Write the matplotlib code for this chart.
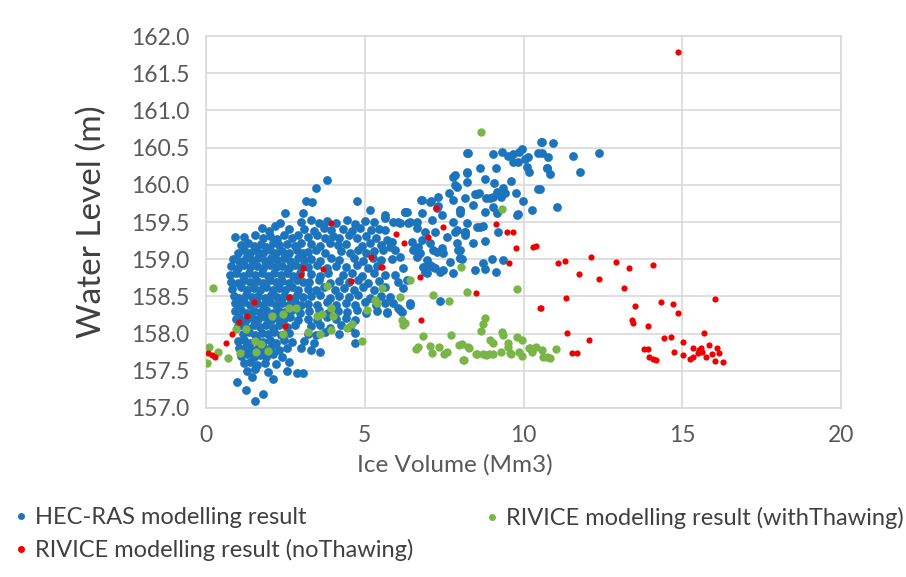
import matplotlib
matplotlib.use("Agg")
import matplotlib.pyplot as plt
from matplotlib.lines import Line2D

# Ice volume (Mm3), water level (m) pairs
hec_ras = [
    # top of main cluster
    (1.75, 159.42), (1.97, 159.38), (2.16, 159.44), (2.33, 159.49), (2.49, 159.62), (2.62, 159.41),
    (0.91, 159.30), (1.20, 159.30), (1.54, 159.33), (1.80, 159.29), (2.02, 159.31), (2.22, 159.27),
    (2.45, 159.32), (2.70, 159.28), (2.90, 159.33),
    (1.10, 159.19), (1.31, 159.22), (1.50, 159.18), (1.72, 159.21), (1.90, 159.17), (2.10, 159.22),
    (2.30, 159.19), (2.55, 159.21), (2.80, 159.18), (3.00, 159.22),
    (1.00, 159.09), (1.20, 159.12), (1.40, 159.08), (1.60, 159.11), (1.80, 159.09), (2.00, 159.12),
    (2.20, 159.08), (2.40, 159.11), (2.60, 159.09), (2.85, 159.12), (3.05, 159.08),
    (0.85, 159.00), (1.05, 158.98), (1.25, 159.02), (1.45, 158.99), (1.65, 159.01), (1.85, 158.98),
    (2.05, 159.02), (2.25, 158.99), (2.45, 159.01), (2.65, 158.98), (2.90, 159.02), (3.10, 158.99),
    (0.80, 158.91), (1.00, 158.88), (1.20, 158.92), (1.40, 158.89), (1.60, 158.91), (1.80, 158.88),
    (2.00, 158.92), (2.20, 158.89), (2.40, 158.91), (2.60, 158.88), (2.80, 158.92), (3.00, 158.89),
    (0.74, 158.79), (0.95, 158.82), (1.15, 158.78), (1.35, 158.81), (1.55, 158.79), (1.75, 158.82),
    (1.95, 158.78), (2.15, 158.81), (2.35, 158.79), (2.55, 158.82), (2.75, 158.78), (2.95, 158.81),
    (0.80, 158.70), (1.00, 158.68), (1.20, 158.72), (1.40, 158.69), (1.60, 158.71), (1.80, 158.68),
    (2.00, 158.72), (2.20, 158.69), (2.40, 158.71), (2.60, 158.68), (2.85, 158.72), (3.05, 158.69),
    (0.82, 158.60), (1.10, 158.62), (1.30, 158.58), (1.50, 158.61), (1.70, 158.59), (1.90, 158.62),
    (2.10, 158.58), (2.30, 158.61), (2.50, 158.59), (2.70, 158.62), (2.90, 158.58),
    (0.88, 158.50), (1.05, 158.48), (1.25, 158.52), (1.45, 158.49), (1.65, 158.51), (1.85, 158.48),
    (2.05, 158.52), (2.25, 158.49), (2.45, 158.51), (2.65, 158.48), (2.85, 158.52), (3.05, 158.49),
    (0.91, 158.41), (1.00, 158.38), (1.20, 158.42), (1.40, 158.39), (1.60, 158.41), (1.80, 158.38),
    (2.00, 158.42), (2.20, 158.39), (2.40, 158.41), (2.60, 158.38), (2.80, 158.42), (3.00, 158.39),
    (0.90, 158.30), (1.10, 158.32), (1.30, 158.28), (1.50, 158.31), (1.70, 158.29), (1.90, 158.32),
    (2.10, 158.28), (2.30, 158.31), (2.50, 158.29), (2.70, 158.32), (2.95, 158.28),
    (0.95, 158.20), (1.05, 158.22), (1.25, 158.18), (1.45, 158.21), (1.65, 158.19), (1.85, 158.22),
    (2.05, 158.18), (2.25, 158.21), (2.45, 158.19), (2.65, 158.22), (2.90, 158.18),
    (1.00, 158.10), (1.10, 158.12), (1.30, 158.08), (1.50, 158.11), (1.70, 158.09), (1.90, 158.12),
    (2.10, 158.08), (2.30, 158.11), (2.55, 158.09), (2.80, 158.12),
    (1.15, 158.00), (1.35, 158.02), (1.55, 157.98), (1.75, 158.01), (1.95, 157.99), (2.15, 158.02),
    (2.35, 157.98), (2.60, 158.01),
    (1.02, 157.90), (1.20, 157.92), (1.40, 157.88), (1.60, 157.91), (1.80, 157.89), (2.00, 157.92),
    (2.20, 157.88), (2.45, 157.91), (2.70, 157.89),
    (1.05, 157.80), (1.25, 157.82), (1.45, 157.78), (1.65, 157.81), (1.85, 157.79), (2.05, 157.82),
    (2.30, 157.78), (2.55, 157.81),
    (1.10, 157.70), (1.30, 157.72), (1.50, 157.68), (1.70, 157.71), (1.90, 157.69), (2.10, 157.72),
    (2.40, 157.68),
    (1.20, 157.60), (1.40, 157.62), (1.60, 157.58), (1.85, 157.61), (2.20, 157.59), (2.62, 157.62),
    (1.30, 157.50), (1.55, 157.52), (1.95, 157.48), (2.55, 157.50), (2.87, 157.47), (3.06, 157.47),
    (0.97, 157.35), (1.45, 157.41), (2.11, 157.39), (1.26, 157.24), (1.80, 157.19), (1.54, 157.09),
    # 3 to 5.6 Mm3
    (3.81, 160.06), (3.46, 159.96), (3.15, 159.78), (3.34, 159.77), (4.76, 159.78), (5.17, 159.66),
    (3.06, 159.62),
    (3.00, 159.50), (3.30, 159.53), (3.55, 159.48), (3.80, 159.52), (4.10, 159.49), (4.45, 159.53),
    (4.70, 159.47), (5.00, 159.52), (5.30, 159.50),
    (3.10, 159.40), (3.40, 159.38), (3.70, 159.42), (3.95, 159.39), (4.30, 159.41), (4.60, 159.38),
    (4.85, 159.42), (5.20, 159.39), (5.45, 159.41),
    (3.20, 159.30), (3.50, 159.32), (3.75, 159.28), (4.00, 159.31), (4.20, 159.29), (4.50, 159.32),
    (4.75, 159.28), (5.05, 159.31), (5.35, 159.29),
    (3.30, 159.20), (3.60, 159.18), (3.90, 159.22), (4.15, 159.19), (4.40, 159.21), (4.90, 159.18),
    (5.15, 159.22), (5.50, 159.19),
    (3.20, 159.10), (3.45, 159.12), (3.75, 159.08), (4.25, 159.11), (4.55, 159.09), (4.80, 159.12),
    (5.05, 159.08), (5.30, 159.11),
    (3.30, 159.00), (3.60, 158.98), (3.95, 159.02), (4.20, 158.99), (4.65, 159.01), (4.95, 158.98),
    (5.25, 159.02), (5.50, 158.99),
    (3.20, 158.90), (3.50, 158.92), (3.80, 158.88), (4.10, 158.91), (4.40, 158.89), (4.75, 158.92),
    (5.10, 158.88), (5.40, 158.91),
    (3.30, 158.80), (3.60, 158.78), (3.85, 158.82), (4.30, 158.79), (4.60, 158.81), (4.90, 158.78),
    (5.30, 158.82),
    (3.25, 158.70), (3.55, 158.72), (3.90, 158.68), (4.20, 158.71), (4.50, 158.69), (4.80, 158.72),
    (5.10, 158.68), (5.45, 158.71),
    (3.20, 158.60), (3.45, 158.58), (3.70, 158.62), (4.05, 158.59), (4.35, 158.61), (4.65, 158.58),
    (4.95, 158.62), (5.30, 158.59),
    (3.30, 158.50), (3.60, 158.52), (3.90, 158.48), (4.20, 158.51), (4.50, 158.49), (4.80, 158.52),
    (5.15, 158.48), (5.50, 158.51),
    (3.20, 158.40), (3.50, 158.38), (3.80, 158.42), (4.10, 158.39), (4.40, 158.41), (4.70, 158.38),
    (5.00, 158.42), (5.35, 158.39), (5.65, 158.41),
    (3.25, 158.30), (3.55, 158.32), (3.85, 158.28), (4.15, 158.31), (4.45, 158.29), (4.75, 158.32),
    (5.05, 158.28), (5.40, 158.31), (5.70, 158.28),
    (3.20, 158.20), (3.50, 158.18), (3.80, 158.22), (4.10, 158.19), (4.40, 158.21), (4.70, 158.18),
    (3.30, 158.10), (3.60, 158.12), (3.90, 158.08), (4.25, 158.11), (4.55, 158.09),
    (3.20, 158.00), (3.45, 157.98), (3.75, 158.02), (4.20, 157.99), (4.70, 158.01),
    (3.10, 157.90), (3.40, 157.88), (4.69, 157.87), (3.00, 157.80), (3.30, 157.78), (3.59, 157.75),
    # 5.5 to 8.2 Mm3
    (5.64, 159.59), (6.33, 159.64), (6.80, 159.62), (7.28, 159.69),
    (5.64, 159.55), (5.89, 159.50), (6.05, 159.50), (6.27, 159.64), (6.36, 159.49), (6.65, 159.50),
    (5.64, 159.39), (5.70, 159.26), (5.86, 159.23), (5.80, 159.16), (5.57, 159.12), (5.95, 159.12),
    (6.11, 159.03), (5.86, 159.00), (5.64, 158.79), (5.95, 158.79), (6.20, 158.88), (6.05, 158.69),
    (6.33, 158.72), (5.64, 158.63), (6.20, 158.61), (5.80, 158.49), (5.89, 158.41), (6.43, 158.38),
    (6.05, 158.34), (5.70, 158.29), (6.17, 158.29), (7.37, 158.44), (6.43, 158.41), (6.11, 158.32),
    (6.52, 159.12), (6.68, 159.08), (6.80, 159.26), (7.06, 159.22), (7.15, 159.12), (7.43, 159.15),
    (7.59, 159.30), (7.90, 159.39), (7.90, 159.22), (7.06, 158.92), (7.21, 158.88), (7.46, 158.85),
    (7.68, 158.96), (8.00, 159.02), (6.83, 158.90), (6.90, 158.83), (7.78, 159.80), (7.90, 159.97),
    (7.65, 159.89), (6.80, 159.80), (7.06, 159.77), (7.31, 159.84), (8.00, 159.66), (8.22, 159.49),
    (8.16, 159.33), (8.22, 160.17), (7.84, 160.13), (8.22, 160.43), (7.78, 160.11), (7.84, 160.00),
    (6.77, 159.80), (7.09, 159.78), (6.27, 159.64), (7.31, 159.71), (7.43, 159.60), (7.78, 159.50),
    (8.00, 159.62), (7.84, 159.36), (6.11, 159.49), (6.43, 159.50), (6.65, 159.42), (6.90, 159.37),
    (6.49, 159.23), (6.68, 159.16), (6.74, 159.08), (6.65, 159.03), (6.96, 158.99), (7.28, 159.10),
    (7.46, 159.08), (7.15, 158.90), (6.96, 158.81), (7.37, 158.83), (7.78, 158.81), (7.94, 159.12),
    (8.00, 159.02), (7.12, 159.53), (7.21, 159.37),
    # 8 to 12.4 Mm3
    (8.25, 160.43), (9.04, 160.41), (9.32, 160.44), (9.51, 160.39), (9.67, 160.41), (9.86, 160.44),
    (9.95, 160.48), (10.55, 160.58), (10.46, 160.43), (9.67, 160.31), (9.83, 160.31), (10.05, 160.35),
    (10.14, 160.37), (10.11, 160.24), (10.17, 160.17), (10.74, 160.23), (8.22, 160.16), (8.63, 160.23),
    (9.13, 160.23), (8.22, 160.04), (8.79, 160.08), (9.07, 160.02), (9.61, 160.05), (10.46, 159.94),
    (9.35, 159.96), (8.47, 159.88), (8.60, 159.89), (9.17, 159.90), (9.42, 159.89), (9.76, 159.89),
    (8.16, 159.82), (8.82, 159.82), (9.04, 159.84), (9.29, 159.84), (9.98, 159.78), (8.41, 159.73),
    (9.04, 159.70), (8.00, 159.66), (10.27, 159.66), (9.17, 159.62), (9.83, 159.61), (8.54, 159.43),
    (8.72, 159.45), (8.16, 159.37), (9.20, 159.37), (8.41, 159.22), (8.79, 159.25), (8.00, 159.12),
    (8.06, 159.00), (9.01, 159.00), (9.35, 158.99), (8.72, 158.95), (8.47, 158.85), (8.79, 158.87),
    (9.13, 158.83), (8.54, 159.88), (8.94, 159.82), (8.79, 159.64), (9.80, 159.60), (8.63, 159.43),
    (8.16, 159.36),
    (10.58, 160.58), (10.93, 160.56), (10.58, 160.43), (10.77, 160.37), (10.74, 160.23), (10.83, 160.15),
    (11.56, 160.39), (11.78, 160.17), (12.38, 160.43), (10.52, 159.94), (11.06, 159.70),
]

rivice_thaw = [
    (0.22, 158.61), (0.09, 157.82), (0.03, 157.60), (0.38, 157.75), (0.69, 157.67), (0.94, 158.06),
    (1.07, 157.74), (1.26, 158.06), (1.54, 157.90), (1.57, 157.75), (1.72, 157.86), (1.95, 157.77),
    (2.08, 158.24), (2.43, 158.26), (2.43, 157.99), (2.61, 158.34), (2.83, 158.34),
    (3.81, 158.64), (3.50, 158.24), (3.65, 158.26), (4.00, 158.24), (3.94, 158.34), (3.21, 158.02),
    (3.59, 157.99), (3.94, 158.05), (4.44, 158.08), (4.60, 158.13), (4.91, 157.90), (5.07, 158.32),
    (5.32, 158.45), (5.39, 158.41), (5.54, 158.61),
    (6.43, 158.72), (6.11, 158.49), (6.17, 158.18), (6.27, 158.14), (6.20, 158.12), (7.15, 158.52),
    (7.65, 158.44), (8.03, 158.90), (8.22, 158.56),
    (8.66, 160.71), (9.32, 159.67), (9.80, 158.60), (8.79, 158.21), (8.72, 158.13), (8.66, 158.04),
    (6.83, 157.97), (7.72, 157.98), (6.61, 157.79), (6.68, 157.82), (7.06, 157.83), (7.12, 157.74),
    (7.34, 157.82), (7.50, 157.73), (7.59, 157.75), (7.97, 157.85), (8.09, 157.65), (8.28, 157.81),
    (8.54, 157.73), (8.72, 157.73), (8.91, 157.73), (9.04, 157.73), (8.94, 157.91), (9.04, 157.87),
    (9.29, 157.75), (9.32, 158.02), (9.35, 157.98), (9.51, 157.87), (9.51, 157.82), (9.61, 157.73),
    (9.80, 157.95), (9.86, 157.75), (9.95, 157.91), (9.95, 157.70), (10.20, 157.81), (10.27, 157.75),
    (10.39, 157.82), (10.58, 157.78), (10.74, 157.69), (10.83, 157.67), (11.02, 157.79),
    (8.06, 157.86), (8.25, 157.82), (8.50, 157.73), (8.82, 157.71), (9.57, 157.74), (10.17, 157.81),
    (10.61, 157.69), (8.13, 157.65),
]

rivice_nothaw = [
    (14.85, 161.78),
    (0.06, 157.74), (0.19, 157.71), (0.28, 157.69), (0.63, 157.87), (0.82, 157.99), (1.04, 158.16),
    (1.29, 158.24), (1.51, 158.42), (2.61, 158.49), (2.49, 158.10), (3.94, 159.49), (3.06, 158.88),
    (2.99, 158.79), (3.69, 158.87), (4.57, 158.71), (5.20, 159.03), (5.51, 158.90),
    (7.24, 159.69), (7.46, 159.43), (6.99, 159.30), (5.98, 159.34), (6.24, 159.22), (5.54, 158.90),
    (6.74, 158.76), (6.77, 158.18),
    (9.13, 159.47), (9.48, 159.37), (9.67, 159.37), (9.76, 159.15), (10.30, 159.16), (10.39, 159.18),
    (9.54, 158.95), (8.50, 158.55), (10.52, 158.34),
    (11.09, 158.95), (11.31, 158.98), (12.13, 159.03), (12.91, 158.96), (13.32, 158.88), (11.75, 158.80),
    (12.38, 158.73), (13.17, 158.61), (11.34, 158.48), (10.55, 158.34), (13.51, 158.37), (13.42, 158.18),
    (13.45, 158.14), (13.92, 158.10), (11.37, 158.01), (12.06, 157.91), (11.53, 157.74), (11.69, 157.74),
    (13.80, 157.79), (13.92, 157.79), (13.95, 157.69),
    (14.08, 158.92), (14.33, 158.42), (14.71, 158.40), (14.87, 158.28), (16.03, 158.47), (14.43, 157.94),
    (14.65, 157.95), (15.69, 158.01), (15.02, 157.89), (14.08, 157.66), (14.17, 157.65), (14.74, 157.75),
    (15.02, 157.71), (15.34, 157.80), (15.53, 157.78), (15.59, 157.80), (15.84, 157.85), (16.09, 157.81),
    (15.24, 157.66), (15.34, 157.69), (15.50, 157.74), (15.75, 157.69), (15.94, 157.73), (16.16, 157.74),
    (16.03, 157.63), (16.28, 157.62), (15.62, 157.75),
]

x_ticks = [0, 5, 10, 15, 20]
y_ticks = [157.0, 157.5, 158.0, 158.5, 159.0, 159.5, 160.0, 160.5, 161.0, 161.5, 162.0]

BLUE = "#1C75BC"
GREEN = "#7AB547"
RED = "#EE0000"

plt.rcParams["font.family"] = ["Lato", "DejaVu Sans"]

fig = plt.figure(figsize=(9.06, 5.77), dpi=100)
ax = fig.add_axes([0.2274, 0.2929, 0.7009, 0.6447])

hx, hy = zip(*hec_ras)
tx, ty = zip(*rivice_thaw)
nx, ny = zip(*rivice_nothaw)
ax.scatter(hx, hy, s=40, color=BLUE, linewidths=0, zorder=3)
ax.scatter(tx, ty, s=36, color=GREEN, linewidths=0, zorder=4)
ax.scatter(nx, ny, s=20, color=RED, linewidths=0, zorder=5)

ax.set_xlim(0, 20)
ax.set_ylim(157.0, 162.0)
ax.set_xticks(x_ticks)
ax.set_yticks(y_ticks)
ax.set_yticklabels([f"{v:.1f}" for v in y_ticks])
ax.grid(True, color="#D9D9D9", linewidth=1.2)
ax.set_axisbelow(True)
for sp in ax.spines.values():
    sp.set_color("#D9D9D9")
    sp.set_linewidth(1.2)
ax.tick_params(length=0, labelsize=16.5, labelcolor="#595959")
ax.tick_params(axis="y", pad=12)
ax.tick_params(axis="x", pad=12)

ax.set_xlabel("Ice Volume (Mm3)", fontsize=17.5, color="#595959")
ax.xaxis.set_label_coords(0.392, -0.125)
ax.set_ylabel("Water Level (m)", fontsize=24, color="#404040")
ax.yaxis.set_label_coords(-0.155, 0.5)

h_blue = Line2D([], [], marker="o", linestyle="", color=BLUE, markersize=4)
h_red = Line2D([], [], marker="o", linestyle="", color=RED, markersize=4)
h_green = Line2D([], [], marker="o", linestyle="", color=GREEN, markersize=4)
leg_opts = dict(loc="upper left", frameon=False, fontsize=17, handlelength=0.5,
                handletextpad=0.35, labelspacing=0.45, borderaxespad=0, borderpad=0,
                labelcolor="#404040")
fig.legend([h_blue, h_red],
           ["HEC-RAS modelling result", "RIVICE modelling result (noThawing)"],
           bbox_to_anchor=(0.0166, 0.121), **leg_opts)
fig.legend([h_green], ["RIVICE modelling result (withThawing)"],
           bbox_to_anchor=(0.536, 0.121), **leg_opts)

fig.savefig("out.png", dpi=100)
